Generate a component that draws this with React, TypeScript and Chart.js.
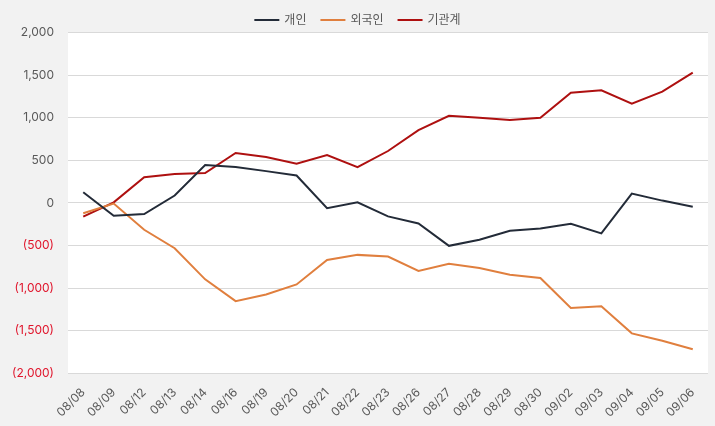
import React, { useEffect, useRef } from "react";
import { Chart, registerables } from "chart.js";

Chart.register(...registerables);

const categories = ["08/08","08/09","08/12","08/13","08/14","08/16","08/19","08/20","08/21","08/22","08/23","08/26","08/27","08/28","08/29","08/30","09/02","09/03","09/04","09/05","09/06"];
const individual = [125, -150, -130, 86, 445, 420, 373, 322, -63, 7, -158, -241, -504, -433, -327, -300, -244, -358, 110, 27, -44];
const foreign = [-122, -8, -315, -532, -897, -1153, -1075, -957, -670, -610, -630, -799, -713, -764, -843, -882, -1233, -1213, -1531, -1618, -1717];
const institution = [-162, 7, 302, 338, 350, 586, 538, 460, 562, 420, 609, 854, 1022, 999, 972, 999, 1294, 1322, 1164, 1306, 1530];
const seriesNames = ["개인", "외국인", "기관계"];
const yMin = -2000;
const yMax = 2000;
const yStep = 500;

const FONT = "Inter, 'Noto Sans CJK KR', 'Noto Sans', sans-serif";

const plotBg = {
  id: "plotBg",
  beforeDraw(chart: any) {
    const { ctx, chartArea, width, height } = chart;
    ctx.save();
    ctx.fillStyle = "#f2f2f2";
    ctx.fillRect(0, 0, width, height);
    ctx.fillStyle = "#ffffff";
    ctx.fillRect(chartArea.left, chartArea.top, chartArea.right - chartArea.left, chartArea.bottom - chartArea.top);
    ctx.restore();
  },
};

const topLegend = {
  id: "topLegend",
  afterDraw(chart: any) {
    const { ctx, width } = chart;
    const lineW = 25;
    const gapText = 5;
    const gapItem = 14;
    const y = 20;
    ctx.save();
    ctx.font = `12px ${FONT}`;
    ctx.textBaseline = "middle";
    const items = chart.data.datasets.map((d: any) => ({
      text: d.label,
      color: d.borderColor,
      w: ctx.measureText(d.label).width,
    }));
    const total = items.reduce((s: number, it: any) => s + lineW + gapText + it.w, 0) + gapItem * (items.length - 1);
    let x = (width - total) / 2;
    items.forEach((it: any) => {
      ctx.strokeStyle = it.color;
      ctx.lineWidth = 2;
      ctx.beginPath();
      ctx.moveTo(x, y);
      ctx.lineTo(x + lineW, y);
      ctx.stroke();
      x += lineW + gapText;
      ctx.fillStyle = "#595959";
      ctx.fillText(it.text, x, y);
      x += it.w + gapItem;
    });
    ctx.restore();
  },
};

function fmt(v: number) {
  const s = Math.abs(v).toLocaleString("en-US");
  return v < 0 ? `(${s})` : s;
}

export default function App() {
  const ref = useRef<HTMLCanvasElement | null>(null);
  useEffect(() => {
    document.body.style.margin = "0";
    document.body.style.background = "#f2f2f2";
    const colors = ["#232b38", "#e07f3e", "#ae1010"];
    const data = [individual, foreign, institution];
    const chart = new Chart(ref.current as HTMLCanvasElement, {
      type: "line",
      data: {
        labels: categories,
        datasets: seriesNames.map((n, i) => ({
          label: n,
          data: data[i],
          borderColor: colors[i],
          backgroundColor: colors[i],
          borderWidth: 2,
          pointRadius: 0,
          tension: 0,
        })),
      },
      options: {
        animation: false,
        responsive: false,
        maintainAspectRatio: false,
        layout: { padding: { left: 0, right: 7, top: 32.5, bottom: 2 } },
        plugins: {
          legend: { display: false },
          tooltip: { enabled: false },
        },
        scales: {
          x: {
            offset: true,
            grid: { display: false },
            border: { display: false },
            ticks: {
              color: "#595959",
              font: { family: FONT, size: 12 },
              maxRotation: 45,
              minRotation: 45,
              autoSkip: false,
              padding: 4,
            },
          },
          y: {
            min: yMin,
            max: yMax,
            border: { display: false },
            grid: { color: "#d9d9d9", drawTicks: false, lineWidth: 1 },
            afterFit: (scale: any) => {
              scale.width = 68;
            },
            ticks: {
              stepSize: yStep,
              padding: 14,
              font: { family: FONT, size: 12 },
              color: (c: any) => (c.tick && c.tick.value < 0 ? "#e0142b" : "#595959"),
              callback: (v: any) => fmt(Number(v)),
            },
          },
        },
      },
      plugins: [plotBg, topLegend],
    } as any);
    return () => chart.destroy();
  }, []);
  return <canvas ref={ref} width={715} height={426} style={{ display: "block" }} />;
}
